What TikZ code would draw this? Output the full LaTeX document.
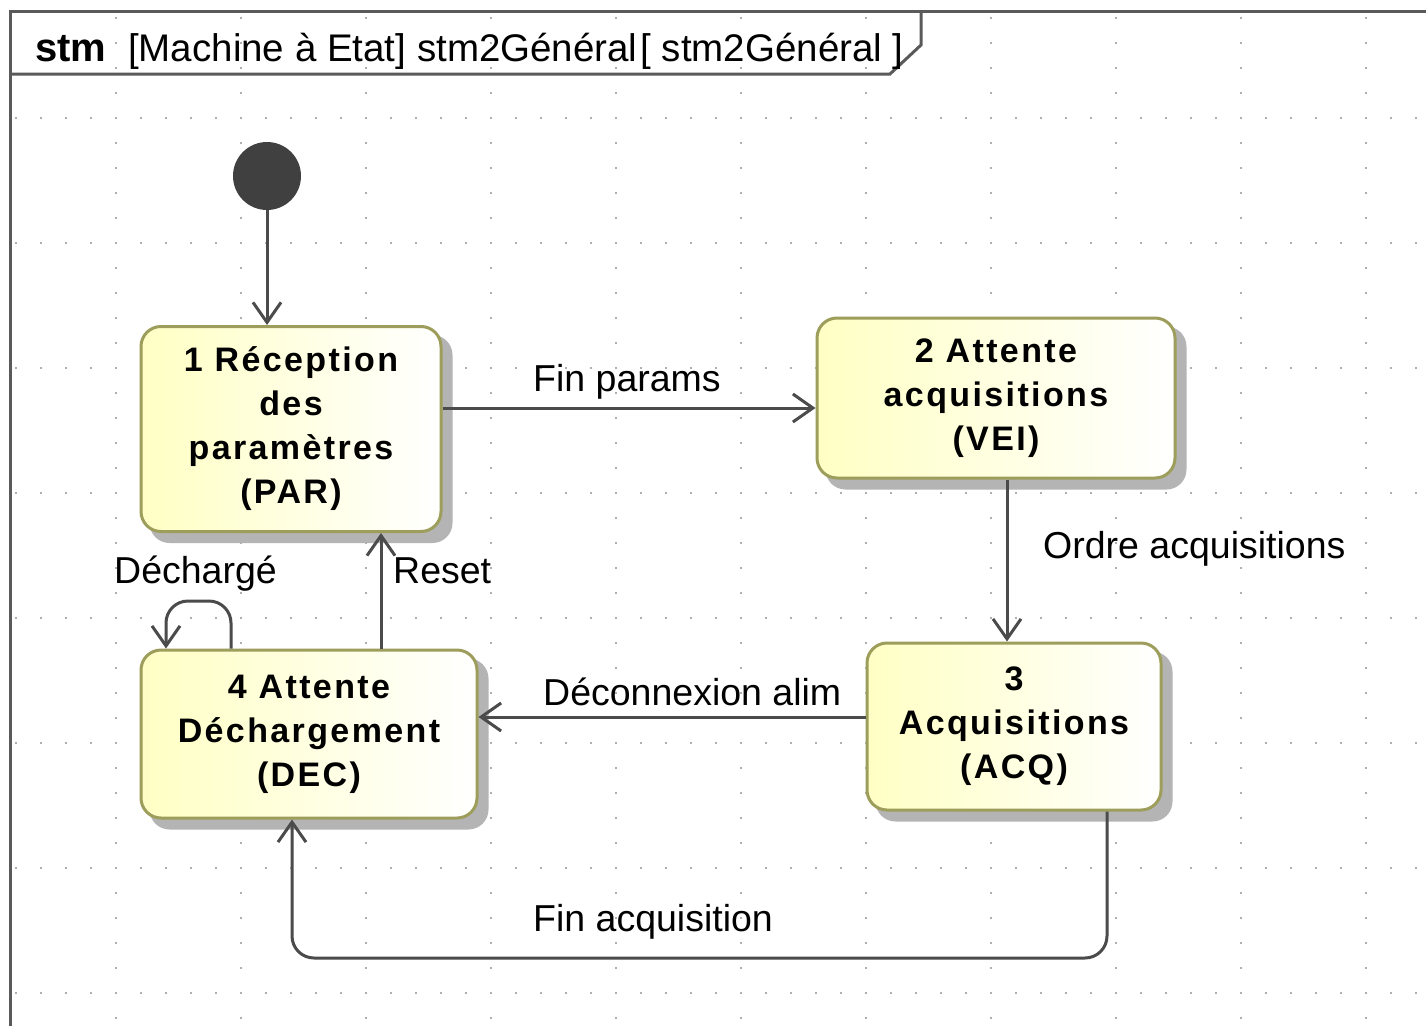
\documentclass[tikz,border=0pt]{standalone}
\usepackage{fontspec}
\setmainfont{Liberation Sans}
\newfontfamily\statefont[LetterSpace=7]{Liberation Sans}
\usetikzlibrary{arrows.meta,backgrounds}
\definecolor{conncol}{RGB}{75,75,75}
\definecolor{boxborder}{RGB}{158,158,92}
\definecolor{boxfill}{RGB}{255,255,196}
\definecolor{shadowcol}{RGB}{180,180,180}
\definecolor{gridcol}{RGB}{175,175,175}
\definecolor{framecol}{RGB}{90,90,90}
\definecolor{initcol}{RGB}{64,64,64}
\tikzset{
  statebox/.style={draw=boxborder, line width=3pt, rounded corners=20pt,
    left color=boxfill, right color=white, inner sep=0pt, align=center,
    font=\statefont\bfseries\fontsize{34}{44}\selectfont},
  conn/.style={draw=conncol, line width=3pt,
    -{Straight Barb[length=20pt,width=28pt]}},
  lbl/.style={inner sep=0pt, anchor=base west, font=\fontsize{37.5}{40}\selectfont},
  framestyle/.style={draw=framecol, line width=3pt}
}
\begin{document}
\begin{tikzpicture}[x=1pt,y=-1pt]
\useasboundingbox (0,0) rectangle (1426,1025);
\begin{pgfonlayer}{background}
  \fill[white] (0,0) rectangle (1426,1025);
  \foreach \gx in {116,241,...,1426}{
    \foreach \gy in {18,43,...,1025}{
      \fill[gridcol] (\gx-0.9,\gy-0.9) rectangle (\gx+0.9,\gy+0.9);
    }
  }
  \foreach \gy in {118,243,...,1025}{
    \foreach \gx in {16,41,...,1426}{
      \fill[gridcol] (\gx-0.9,\gy-0.9) rectangle (\gx+0.9,\gy+0.9);
    }
  }
\end{pgfonlayer}

% frame
\draw[framestyle] (10,1040) -- (10,12) -- (1440,12);
\draw[framestyle] (10,74) -- (890,74) -- (921,45) -- (921,12);
\node[inner sep=0pt, anchor=base west, font=\fontsize{40}{42}\selectfont\bfseries] (stmlbl) at (35,61) {stm};
\node[inner sep=0pt, anchor=base west, font=\fontsize{38.5}{42}\selectfont] (title) at (128,61)
  {[Machine à Etat] stm2Général\hspace{3pt}[ stm2Général ]};

% states
\node[circle, fill=initcol, minimum size=68pt, inner sep=0pt] (init) at (267,176) {};
\node[statebox, minimum width=300pt, minimum height=205pt] (s1) at (291,429)
  {1 Réception\\des\\paramètres\\(PAR)};
\node[statebox, minimum width=358pt, minimum height=160pt] (s2) at (996,398)
  {2 Attente\\acquisitions\\(VEI)};
\node[statebox, minimum width=294pt, minimum height=167pt] (s3) at (1014,726.5)
  {3\\Acquisitions\\(ACQ)};
\node[statebox, minimum width=336pt, minimum height=168pt] (s4) at (309,734)
  {4 Attente\\Déchargement\\(DEC)};

\begin{pgfonlayer}{background}
  \foreach \s in {s1,s2,s3,s4}{
    \fill[shadowcol, rounded corners=20pt] ([shift={(10,10)}]\s.south west) rectangle ([shift={(10,10)}]\s.north east);
  }
\end{pgfonlayer}

% connectors
\draw[conn] (init) -- (init |- s1.north);
\draw[conn] (s1.east |- 0,408) -- (s2.west |- 0,408);
\draw[conn] (s2.south -| 1007,0) -- (s3.north -| 1007,0);
\draw[conn] (s3.west |- 0,717) -- (s4.east |- 0,717);
\draw[conn] (s4.north -| 381,0) -- (s1.south -| 381,0);
\draw[conn, rounded corners=22pt] (s4.north -| 231,0) -- (231,601) -- (166,601) -- (s4.north -| 166,0);
\draw[conn, rounded corners=22pt] (s3.south -| 1107,0) -- (1107,958) -- (292,958) -- (s4.south -| 292,0);

% labels
\node[lbl] (l1) at (533,391) {Fin params};
\node[lbl] (l2) at (1043,558) {Ordre acquisitions};
\node[lbl] (l3) at (543,705) {Déconnexion alim};
\node[lbl] (l4) at (393,583) {Reset};
\node[lbl] (l5) at (114,583) {Déchargé};
\node[lbl] (l6) at (533,931) {Fin acquisition};
\end{tikzpicture}
\end{document}
